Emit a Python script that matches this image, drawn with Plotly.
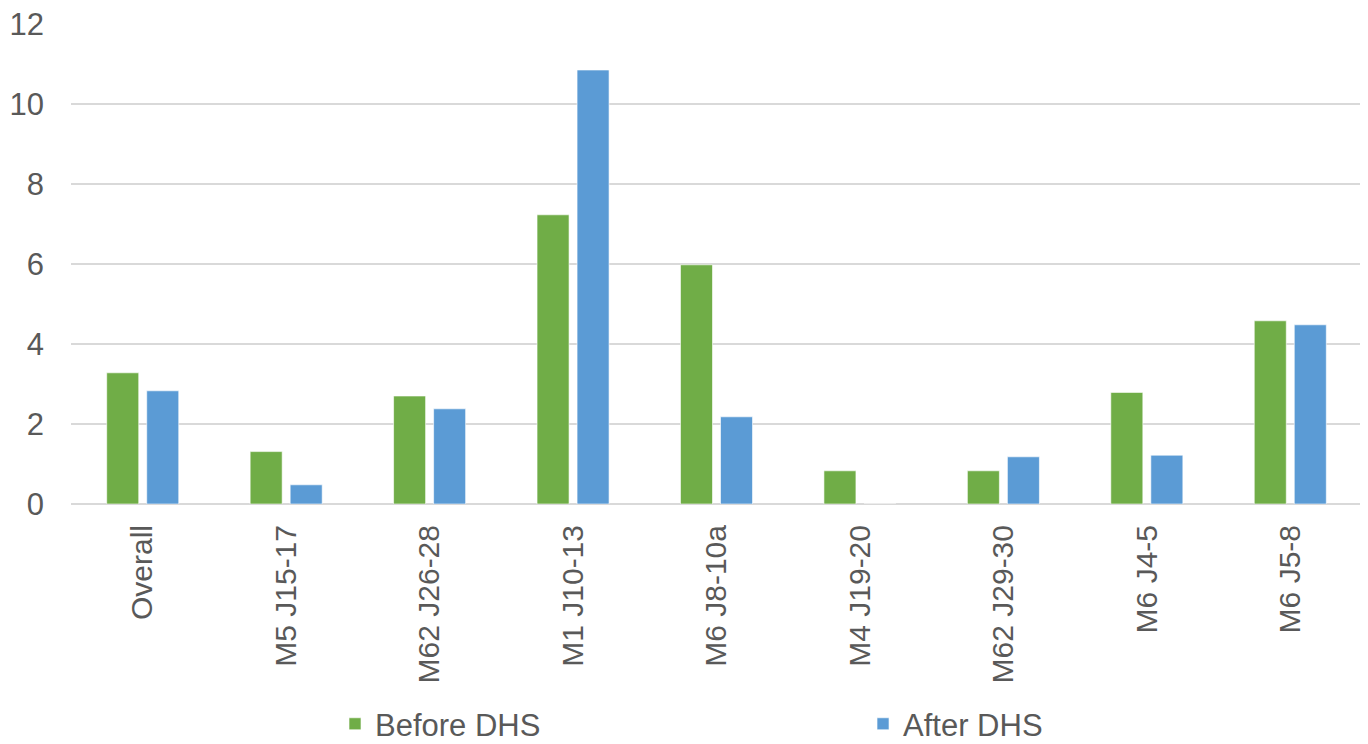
import plotly.graph_objects as go

categories = ["Overall", "M5 J15-17", "M62 J26-28", "M1 J10-13", "M6 J8-10a",
              "M4 J19-20", "M62 J29-30", "M6 J4-5", "M6 J5-8"]
before_dhs = [3.28, 1.31, 2.70, 7.23, 5.98, 0.83, 0.83, 2.79, 4.58]
after_dhs = [2.83, 0.48, 2.38, 10.85, 2.18, 0.0, 1.18, 1.22, 4.48]
y_ticks = [0, 2, 4, 6, 8, 10, 12]

FONT = "Liberation Sans, Arial, sans-serif"
GREY = "#595959"

fig = go.Figure()
fig.add_trace(go.Bar(name="Before DHS", x=categories, y=before_dhs, legend="legend",
                     marker=dict(color="#70AD47", line=dict(color="rgba(255,255,255,0.6)", width=1))))
fig.add_trace(go.Bar(name="After DHS", x=categories, y=after_dhs, legend="legend2",
                     marker=dict(color="#5B9BD5", line=dict(color="rgba(255,255,255,0.6)", width=1))))

leg_common = dict(orientation="h", xanchor="left", y=0.027, yanchor="middle",
                  yref="container", font=dict(size=31, color=GREY, family=FONT),
                  itemwidth=30, bgcolor="rgba(0,0,0,0)")

fig.update_layout(
    width=1360, height=736,
    margin=dict(l=63, r=6, t=16, b=240),
    paper_bgcolor="white", plot_bgcolor="white",
    barmode="group", bargap=0.442, bargroupgap=0.2,
    font=dict(family=FONT, color=GREY),
    showlegend=True,
    legend=dict(x=0.2045, **leg_common),
    legend2=dict(x=0.6135, **leg_common),
)
fig.update_xaxes(tickangle=-90, tickfont=dict(size=30, color=GREY), showgrid=False,
                 showline=False, ticks="", ticklabelstandoff=14, automargin=False,
                 ticklabeloverflow="allow")
fig.update_yaxes(range=[0, 12], tickvals=y_ticks, tickfont=dict(size=31, color=GREY),
                 showgrid=True, gridcolor="#D9D9D9", gridwidth=1.5,
                 zeroline=True, zerolinecolor="#D9D9D9", zerolinewidth=1.5,
                 showline=False, ticks="", ticklabelstandoff=26, automargin=False,
                 ticklabeloverflow="allow")

fig.write_html("out.html")
